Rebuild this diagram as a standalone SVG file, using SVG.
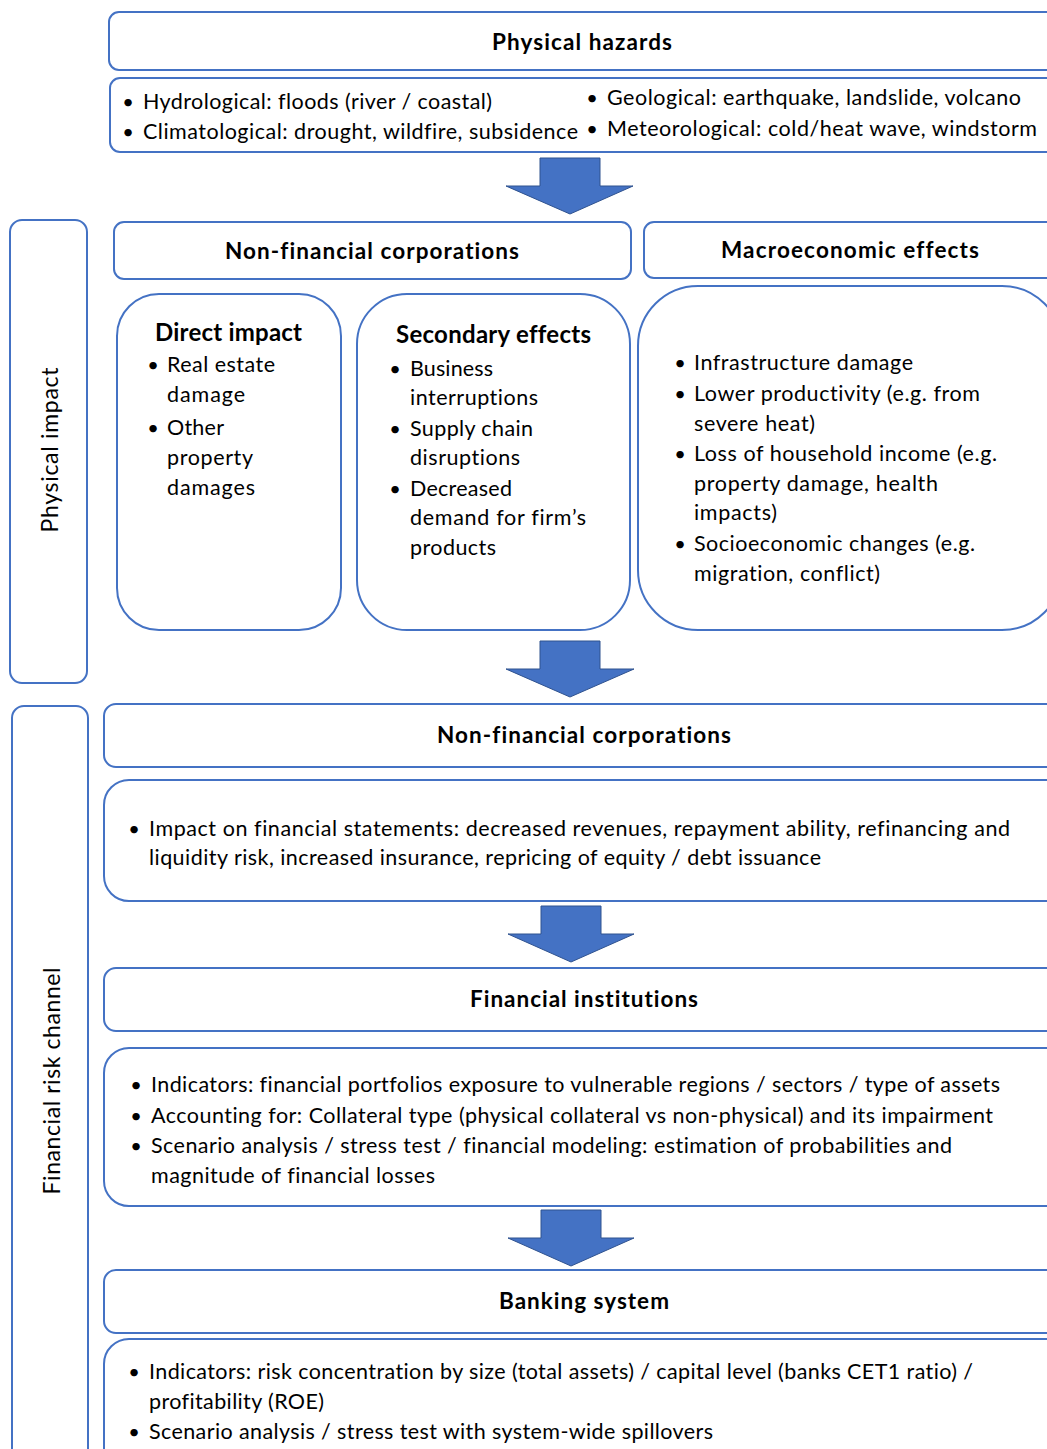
<svg xmlns="http://www.w3.org/2000/svg" width="1047" height="1449" viewBox="0 0 1047 1449">
<style>
.box{fill:#fff;stroke:#4472C4;stroke-width:2}
.arrow{fill:#4472C4;stroke:#2F528F;stroke-width:1;stroke-linejoin:miter}
text{font-family:Lato,"Liberation Sans",sans-serif;font-size:21.5px;fill:#000;font-variant-ligatures:none}
.h{font-weight:bold;font-size:22.5px;text-anchor:middle}
.h2{font-weight:bold;font-size:24px;text-anchor:middle}
.bl{text-anchor:middle;font-size:20px}
.side{font-size:23px;text-anchor:middle}
</style>
<rect width="1047" height="1449" fill="#fff"/>

<g id="connectors">
<path class="arrow" d="M540,158 H600 V186 H633 L570,214 L506,186 H540 Z"/>
<path class="arrow" d="M540,641 H600 V669 H634 L570,697 L506,669 H540 Z"/>
<path class="arrow" d="M541,906 H601 V934 H634 L571,962 L508,934 H541 Z"/>
<path class="arrow" d="M541,1210 H601 V1238 H634 L571,1266 L508,1238 H541 Z"/>
</g>

<g id="physical-hazards">
<rect class="box" x="109" y="12" width="970" height="58" rx="10"/>
<text class="h" x="582" y="50" textLength="180">Physical hazards</text>
</g>

<g id="hazards-list">
<rect class="box" x="110" y="78" width="970" height="74" rx="10"/>
<text class="bl" x="128" y="109">•</text>
<text x="143" y="109" textLength="349">Hydrological: floods (river / coastal)</text>
<text class="bl" x="128" y="139">•</text>
<text x="143" y="139" textLength="435">Climatological: drought, wildfire, subsidence</text>
<text class="bl" x="592" y="105">•</text>
<text x="607" y="105" textLength="414">Geological: earthquake, landslide, volcano</text>
<text class="bl" x="592" y="136">•</text>
<text x="607" y="136" textLength="430">Meteorological: cold/heat wave, windstorm</text>
</g>

<g id="physical-impact">
<rect class="box" x="10" y="220" width="77" height="463" rx="12"/>
<text class="side" transform="translate(58,450) rotate(-90)" textLength="165">Physical impact</text>
</g>

<g id="nfc-top">
<rect class="box" x="114" y="222" width="517" height="57" rx="10"/>
<text class="h" x="372" y="259" textLength="294">Non-financial corporations</text>
</g>

<g id="macro-title">
<rect class="box" x="644" y="222" width="430" height="56" rx="10"/>
<text class="h" x="850" y="258" textLength="258">Macroeconomic effects</text>
</g>

<g id="direct-impact">
<rect class="box" x="117" y="294" width="224" height="336" rx="42"/>
<text class="h2" x="228.5" y="341" textLength="147">Direct impact</text>
<text class="bl" x="153" y="372">•</text>
<text x="167" y="372" textLength="108">Real estate</text>
<text x="167" y="402" textLength="78">damage</text>
<text class="bl" x="153" y="435">•</text>
<text x="167" y="435" textLength="57">Other</text>
<text x="167" y="465" textLength="86">property</text>
<text x="167" y="495" textLength="88">damages</text>
</g>

<g id="secondary-effects">
<rect class="box" x="357" y="294" width="273" height="336" rx="50"/>
<text class="h2" x="493.5" y="343" textLength="195">Secondary effects</text>
<text class="bl" x="395" y="376">•</text>
<text x="410" y="376" textLength="83">Business</text>
<text x="410" y="405" textLength="128">interruptions</text>
<text class="bl" x="395" y="436">•</text>
<text x="410" y="436" textLength="123">Supply chain</text>
<text x="410" y="465" textLength="110">disruptions</text>
<text class="bl" x="395" y="496">•</text>
<text x="410" y="496" textLength="102">Decreased</text>
<text x="410" y="525" textLength="176">demand for firm’s</text>
<text x="410" y="555" textLength="86">products</text>
</g>

<g id="macro-list">
<rect class="box" x="638" y="286" width="424" height="344" rx="60"/>
<text class="bl" x="680" y="370">•</text>
<text x="694" y="370" textLength="219">Infrastructure damage</text>
<text class="bl" x="680" y="401">•</text>
<text x="694" y="401" textLength="286">Lower productivity (e.g. from</text>
<text x="694" y="431" textLength="121">severe heat)</text>
<text class="bl" x="680" y="461">•</text>
<text x="694" y="461" textLength="303">Loss of household income (e.g.</text>
<text x="694" y="491" textLength="244">property damage, health</text>
<text x="694" y="520" textLength="83">impacts)</text>
<text class="bl" x="680" y="551">•</text>
<text x="694" y="551" textLength="281">Socioeconomic changes (e.g.</text>
<text x="694" y="581" textLength="186">migration, conflict)</text>
</g>

<g id="financial-risk-channel">
<rect class="box" x="12" y="706" width="76" height="800" rx="12"/>
<text class="side" transform="translate(60,1081) rotate(-90)" textLength="227">Financial risk channel</text>
</g>

<g id="nfc-bottom">
<rect class="box" x="104" y="704" width="970" height="63" rx="12"/>
<text class="h" x="584" y="743" textLength="294">Non-financial corporations</text>
</g>

<g id="nfc-impact">
<rect class="box" x="104" y="780" width="970" height="121" rx="25"/>
<text class="bl" x="134" y="836">•</text>
<text x="149" y="836" textLength="861">Impact on financial statements: decreased revenues, repayment ability, refinancing and</text>
<text x="149" y="865" textLength="672">liquidity risk, increased insurance, repricing of equity / debt issuance</text>
</g>

<g id="financial-institutions">
<rect class="box" x="104" y="968" width="970" height="63" rx="12"/>
<text class="h" x="584" y="1007" textLength="228">Financial institutions</text>
</g>

<g id="fi-list">
<rect class="box" x="104" y="1048" width="970" height="158" rx="25"/>
<text class="bl" x="136" y="1092">•</text>
<text x="151" y="1092" textLength="849">Indicators: financial portfolios exposure to vulnerable regions / sectors / type of assets</text>
<text class="bl" x="136" y="1123">•</text>
<text x="151" y="1123" textLength="842">Accounting for: Collateral type (physical collateral vs non-physical) and its impairment</text>
<text class="bl" x="136" y="1153">•</text>
<text x="151" y="1153" textLength="801">Scenario analysis / stress test / financial modeling: estimation of probabilities and</text>
<text x="151" y="1183" textLength="284">magnitude of financial losses</text>
</g>

<g id="banking-system">
<rect class="box" x="104" y="1270" width="970" height="63" rx="12"/>
<text class="h" x="584" y="1309" textLength="170">Banking system</text>
</g>

<g id="banking-list">
<rect class="box" x="104" y="1339" width="970" height="200" rx="25"/>
<text class="bl" x="134" y="1379">•</text>
<text x="149" y="1379" textLength="824">Indicators: risk concentration by size (total assets) / capital level (banks CET1 ratio) /</text>
<text x="149" y="1409" textLength="175">profitability (ROE)</text>
<text class="bl" x="134" y="1439">•</text>
<text x="149" y="1439" textLength="564">Scenario analysis / stress test with system-wide spillovers</text>
</g>
</svg>
